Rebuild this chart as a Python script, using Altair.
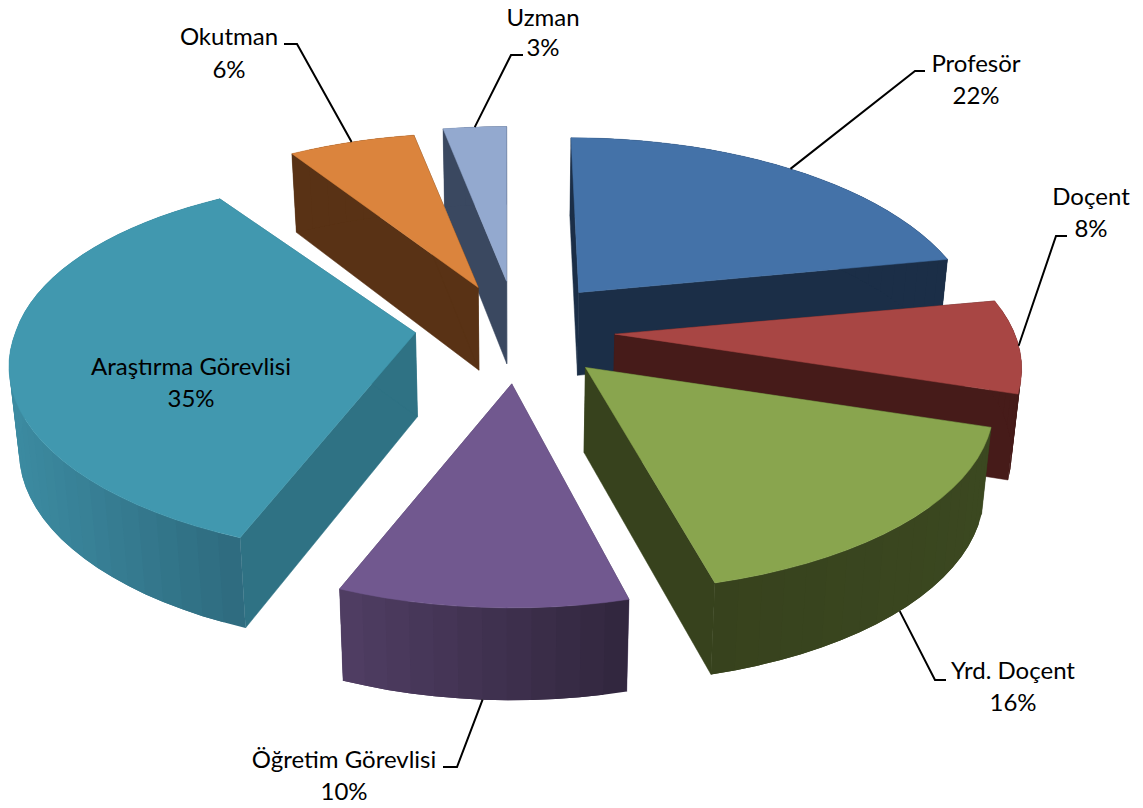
import math
import altair as alt

names = ["Profesör", "Doçent", "Yrd. Doçent", "Öğretim Görevlisi", "Araştırma Görevlisi", "Okutman", "Uzman"]
shares = [22, 8, 16, 10, 35, 6, 3]
top_colors = ["#4472A8", "#A84644", "#89A54E", "#71588F", "#4198AF", "#DB843D", "#93A9CF"]
wall_colors = ["#1B2E47", "#461B19", "#37421D", "#4F3D62", "#2F7284", "#593215", "#3A4860"]
rim_left = ["#1B2E47", "#461B19", "#37421D", "#503E64", "#3C8BA1", "#593215", "#3A4860"]
rim_right = ["#1B2E47", "#461B19", "#3B4820", "#31263D", "#2E6A7E", "#593215", "#3A4860"]

# projection of the tilted pie
CX, CY = 515, 331
EX, EY = 100, 50       # explosion
RX, RY = 400, 183      # radii
P = 0.183              # perspective
# per slice: width scale, lean of the far rim, lean of the near rim, apex nudge x, y
tune = {
    0: (0.975, 0.05, 0.0, 0, 0),
    1: (1.0, 0.0, 0.0, 0, 0),
    2: (1.0, 0.0, 0.04, 2, 0),
    3: (0.97, 0.0, 0.0, 3, 3),
    4: (1.0, 0.075, 0.01, 0, -3),
    5: (1.0, 0.005, 0.0, 0, 3),
    6: (1.0, 0.0, 0.0, 1, 0),
}
pad = 8


def hexmix(a, b, t):
    ca = [int(a[i:i + 2], 16) for i in (1, 3, 5)]
    cb = [int(b[i:i + 2], 16) for i in (1, 3, 5)]
    return "#%02x%02x%02x" % tuple(round(u + (v - u) * t) for u, v in zip(ca, cb))


def rim(i, apex, deg):
    th = math.radians(deg)
    s = 1 / (1 + P * math.cos(th))
    dx = RX * tune[i][0] * math.sin(th) * s
    dy = -RY * math.cos(th) * s
    lean = tune[i][1] if dy < 0 else tune[i][2]
    return (apex[0] + dx + lean * dy, apex[1] + dy)


def low(pt):
    return (CX + (pt[0] - CX) * 0.98, pt[1] + 84 + 0.03 * (pt[1] - CY))


def poly(points, color, w=0):
    ring = [list(p) for p in points] + [list(points[0])]
    return {"type": "Feature", "properties": {"c": color, "w": w},
            "geometry": {"type": "Polygon", "coordinates": [ring]}}


slices = {}
a = 0.0
for i, v in enumerate(shares):
    b = a + v * 3.6
    m = math.radians((a + b) / 2)
    apex = (CX + EX * math.sin(m) + tune[i][3], CY - EY * math.cos(m) + tune[i][4])
    slices[i] = (a, b, apex)
    a = b

features = []
for i in [6, 5, 0, 1, 4, 3, 2]:
    a, b, apex = slices[i]
    n = max(3, int((b - a) / 3))
    arc = [rim(i, apex, a + (b - a) * k / n) for k in range(n + 1)]
    for edge in (arc[0], arc[-1]):
        features.append(poly([apex, edge, low(edge), low(apex)], wall_colors[i], 0.5))
    xs = [p[0] for p in arc]
    x0, x1 = min(xs), max(xs)
    for k in range(n):
        # each strip runs on under the next one, so no seams show between them
        p, q = arc[k], arc[min(k + 2, n)]
        mid = arc[k + 1]
        t = ((arc[k][0] + mid[0]) / 2 - x0) / (x1 - x0)
        features.append(poly([p, mid, q, low(q), low(mid), low(p)], hexmix(rim_left[i], rim_right[i], t)))
    features.append(poly([apex] + arc, top_colors[i], 0.5))

proj = dict(type="identity", scale=1, translate=[-pad, -pad])

faces = (
    alt.Chart(alt.Data(values=features))
    .mark_geoshape()
    .encode(fill=alt.Fill("properties.c:N", scale=None),
            stroke=alt.Stroke("properties.c:N", scale=None),
            strokeWidth=alt.StrokeWidth("properties.w:Q", scale=None))
    .project(**proj)
)

# label layout: (centre x, first baseline, second baseline, elbow start, elbow bend)
layout = {
    0: (976, 72, 104, (925, 71), (915, 71)),
    1: (1091, 205, 237, (1067, 236), (1056, 236)),
    2: (1013, 679, 711, (946, 680), (935, 680)),
    3: (344, 768, 800, (443, 767), (457, 767)),
    4: (191, 375, 407, None, None),
    5: (229, 45, 78, (284, 44), (297, 44)),
    6: (543, 26, 56, (523, 55), (511, 55)),
}
front = {2, 3}

lines, texts = [], []
for i, (cx, base, base2, s, e) in layout.items():
    texts.append({"t": names[i], "lon": cx, "lat": base})
    texts.append({"t": f"{shares[i]}%", "lon": cx, "lat": base2})
    if s:
        a, b, apex = slices[i]
        anchor = rim(i, apex, (a + b) / 2)
        if i in front:
            anchor = low(anchor)
        lines.append({"type": "Feature", "properties": {},
                      "geometry": {"type": "LineString", "coordinates": [list(s), list(e), list(anchor)]}})

leaders = (
    alt.Chart(alt.Data(values=lines))
    .mark_geoshape(filled=False, stroke="#000000", strokeWidth=2)
    .project(**proj)
)

labels = (
    alt.Chart(alt.Data(values=texts))
    .mark_text(font="Lato", fontSize=24, color="#000000", align="center", baseline="alphabetic")
    .encode(longitude="lon:Q", latitude="lat:Q", text="t:N")
    .project(**proj)
)

chart = (
    alt.layer(faces, leaders, labels)
    .properties(width=1127, height=800, padding=0, autosize=alt.AutoSizeParams(type="none"))
    .configure_view(stroke=None)
)
chart.save("out.html", embed_options={"renderer": "svg", "actions": False})
